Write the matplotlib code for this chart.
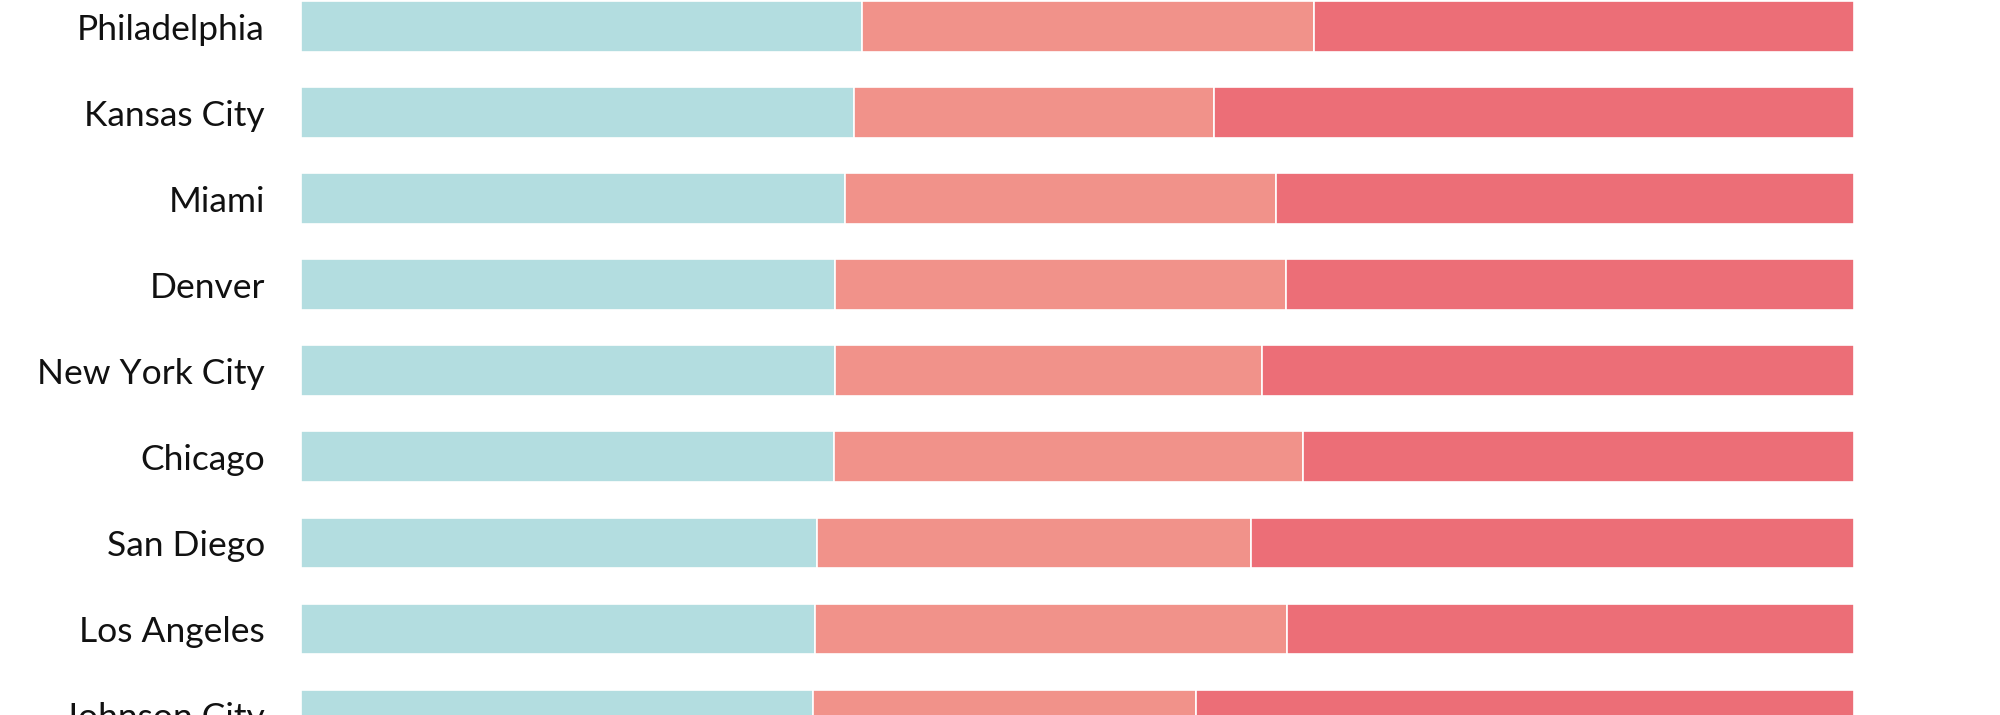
import matplotlib
matplotlib.use("Agg")
import matplotlib.pyplot as plt
import numpy as np

# cities from top to bottom
cidades = ["Philadelphia", "Kansas City", "Miami", "Denver", "New York City",
           "Chicago", "San Diego", "Los Angeles", "Johnson City"]

# share of each segment, in percent
parte_1 = [36.1, 35.6, 35.0, 34.4, 34.4, 34.3, 33.2, 33.1, 33.0]
parte_2 = [29.1, 23.2, 27.8, 29.0, 27.5, 30.2, 28.0, 30.4, 24.6]
parte_3 = [34.8, 41.2, 37.2, 36.6, 38.1, 35.5, 38.8, 36.5, 42.4]

cores = ["#B3DDE0", "#F1928A", "#EC6E77"]

plt.rcParams['font.family'] = ['Lato', 'DejaVu Sans']

fig = plt.figure(figsize=(20, 7.15), dpi=100)
ax = fig.add_axes([0.1505, 0.0, 0.7765, 1.0])

y = np.arange(len(cidades))
altura = 0.59
esquerda = np.zeros(len(cidades))
for valores, cor in zip([parte_1, parte_2, parte_3], cores):
    ax.barh(y, valores, left=esquerda, height=altura, color=cor,
            edgecolor="white", linewidth=1.2)
    esquerda = esquerda + np.array(valores)

ax.set_xlim(0, 100)
ax.set_ylim(7.979, -0.3095)
ax.set_yticks(y)
ax.set_yticklabels(cidades, fontsize=25.5, color="#111111")
ax.tick_params(axis="y", length=0, pad=26)
ax.set_xticks([])
for lado in ax.spines.values():
    lado.set_visible(False)

fig.savefig("out.png", dpi=100, facecolor="white")
